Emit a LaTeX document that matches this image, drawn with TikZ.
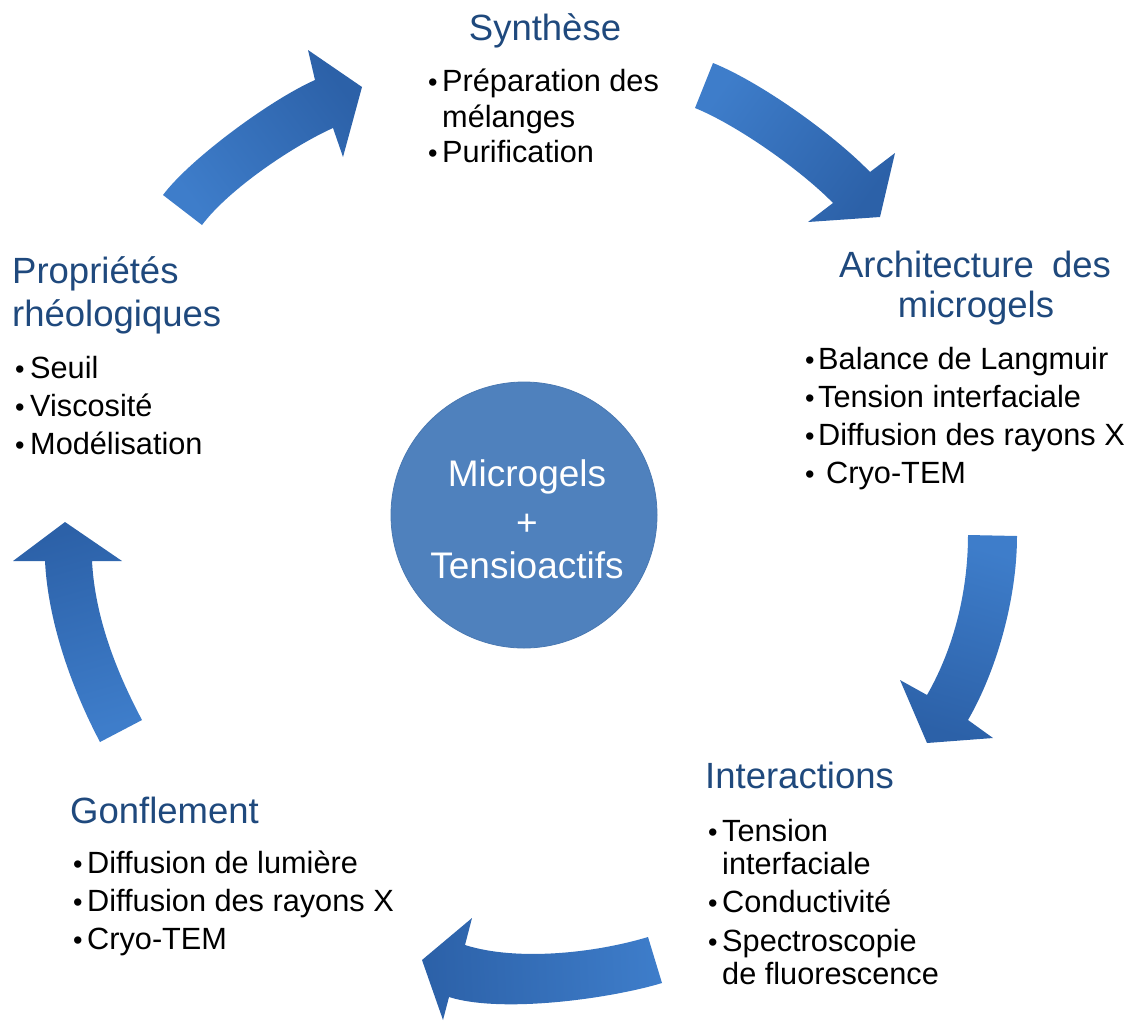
\documentclass[tikz,border=0pt]{standalone}
\usepackage{fontspec}
\setmainfont{Liberation Sans}
\definecolor{ttlblue}{RGB}{31,73,125}
\definecolor{circblue}{RGB}{79,129,189}
\definecolor{arLight}{RGB}{62,125,202}
\definecolor{arDark}{RGB}{44,97,168}
\begin{document}
\begin{tikzpicture}[x=1pt,y=-1pt,
  ttlL/.style={inner sep=0pt, anchor=base west, text=ttlblue, font=\fontsize{36.5}{40}\selectfont},
  ttlC/.style={inner sep=0pt, anchor=base, text=ttlblue, font=\fontsize{36.5}{40}\selectfont},
  itm/.style={inner sep=0pt, anchor=base west, text=black, font=\fontsize{30.7}{36}\selectfont},
  bul/.style={inner sep=0pt, anchor=base west, text=black, font=\fontsize{27}{36}\selectfont},
  ctext/.style={inner sep=0pt, anchor=base, text=white, font=\fontsize{37}{40}\selectfont},
  arrowbody/.style={top color=arDark, bottom color=arLight, draw=none}
]
\useasboundingbox (0,0) rectangle (1129,1023);

% block arrows
\path[arrowbody, shading angle=-53] (163,195) .. controls (190,159) and (270,100) .. (315,80)
  -- (308,50) -- (362,87) -- (343,157) -- (333,128)
  .. controls (293,146) and (229,189) .. (202,225) -- cycle;
\path[arrowbody, shading angle=-126] (713,63) .. controls (759,81.5) and (831.5,132.4) .. (870,172)
  -- (895,153) -- (880,217) -- (808,222) -- (833,203)
  .. controls (801.5,170.6) and (737,125) .. (695,108) -- cycle;
\path[arrowbody, shading angle=164] (1017,536) .. controls (1017,596) and (998,668) .. (968,720)
  -- (993,738) -- (927,743) -- (900,680) -- (927,695)
  .. controls (954.5,647) and (968,590) .. (968,535) -- cycle;
\path[arrowbody, shading angle=93] (648,937) .. controls (595,953) and (517,961.5) .. (465,945)
  -- (472,918) -- (422,960) -- (443,1020) -- (449,997)
  .. controls (501,1013.5) and (609,999) .. (662,983) -- cycle;
\path[arrowbody, shading angle=16] (100,742) .. controls (72,689) and (48,622) .. (45,561)
  -- (13,561) -- (65,522) -- (122,561) -- (92,561)
  .. controls (95,617) and (116,671) .. (142,720) -- cycle;

% centre
\node[circle, fill=circblue, draw=circblue!94!black, line width=0.8pt, minimum size=266pt, inner sep=0pt] (core) at (524,515) {};
\node[ctext] (core1) at (527,486) {Microgels};
\node[ctext] (core2) at (527,535) {+};
\node[ctext] (core3) at (527,578) {Tensioactifs};

% Synthese
\node[ttlC] (syn) at (545,40) {Synthèse};
\node[bul] (synb1) at (428,91) {•};
\node[itm] (syni1) at (442,91) {Préparation des};
\node[itm] (syni1b) at (442,127) {mélanges};
\node[bul] (synb2) at (428,162) {•};
\node[itm] (syni2) at (442,162) {Purification};

% Architecture
\node[ttlC] (arct1) at (975,277) {Architecture\hspace{8pt} des};
\node[ttlC] (arct2) at (976,317) {microgels};
\node[bul] (arcb1) at (805,369) {•};
\node[itm] (arci1) at (818,369) {Balance de Langmuir};
\node[bul] (arcb2) at (805,407) {•};
\node[itm] (arci2) at (818,407) {Tension interfaciale};
\node[bul] (arcb3) at (805,445) {•};
\node[itm] (arci3) at (818,445) {Diffusion des rayons X};
\node[bul] (arcb4) at (805,483) {•};
\node[itm] (arci4) at (826,483) {Cryo-TEM};

% Proprietes
\node[ttlL] (prot1) at (12,283) {Propriétés};
\node[ttlL] (prot2) at (12,326) {rhéologiques};
\node[bul] (prob1) at (15,378) {•};
\node[itm] (proi1) at (30,378) {Seuil};
\node[bul] (prob2) at (15,416) {•};
\node[itm] (proi2) at (30,416) {Viscosité};
\node[bul] (prob3) at (15,454) {•};
\node[itm] (proi3) at (30,454) {Modélisation};

% Interactions
\node[ttlL] (intt) at (705,788) {Interactions};
\node[bul] (intb1) at (708,841) {•};
\node[itm] (inti1) at (722,841) {Tension};
\node[itm] (inti1b) at (722,874) {interfaciale};
\node[bul] (intb2) at (708,912) {•};
\node[itm] (inti2) at (722,912) {Conductivité};
\node[bul] (intb3) at (708,951) {•};
\node[itm] (inti3) at (722,951) {Spectroscopie};
\node[itm] (inti3b) at (722,984) {de fluorescence};

% Gonflement
\node[ttlL] (gont) at (70,823) {Gonflement};
\node[bul] (gonb1) at (73,873) {•};
\node[itm] (goni1) at (87,873) {Diffusion de lumière};
\node[bul] (gonb2) at (73,911) {•};
\node[itm] (goni2) at (87,911) {Diffusion des rayons X};
\node[bul] (gonb3) at (73,949) {•};
\node[itm] (goni3) at (87,949) {Cryo-TEM};
\end{tikzpicture}
\end{document}
